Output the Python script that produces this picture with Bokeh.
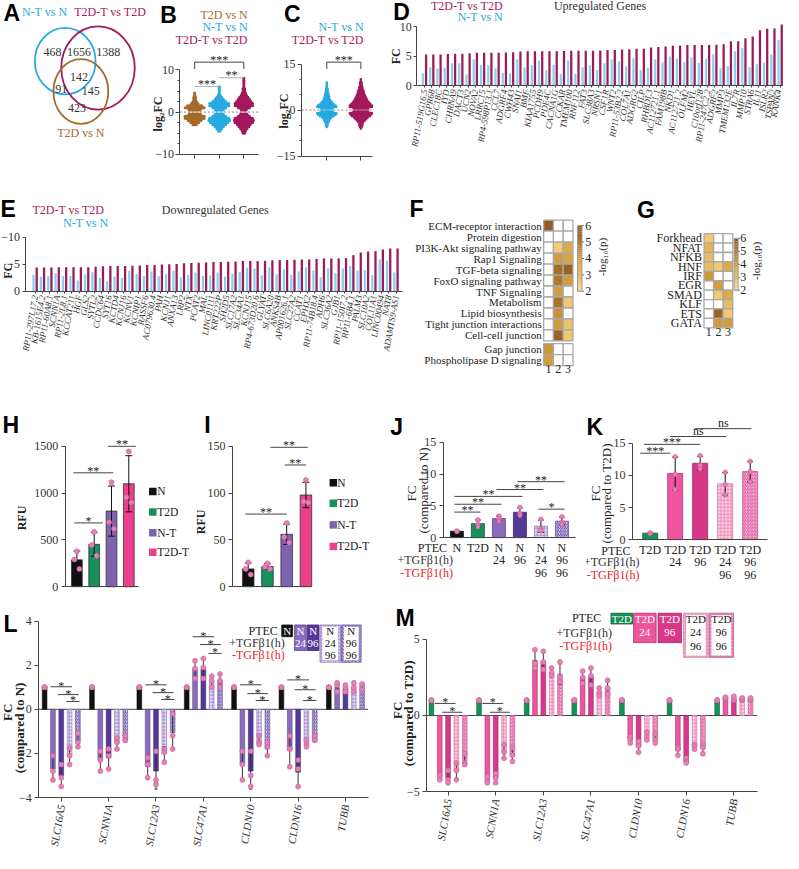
import math
import numpy as np
from bokeh.plotting import figure
from bokeh.models import Range1d, Label, FixedTicker
from bokeh.layouts import column, row
from bokeh.embed import file_html
from bokeh.resources import INLINE

# ======================= DATA =======================
# A: Venn diagram
venn_sets = ["N-T vs N", "T2D-T vs T2D", "T2D vs N"]
venn_counts = [468, 1656, 1388, 142, 91, 145, 423]

# B: log2FC swarm (dots per row at each log2FC level)
b_groups = ["T2D vs N", "N-T vs N", "T2D-T vs T2D"]
b_bins = [8, 7.5, 7, 6.5, 6, 5.5, 5, 4.5, 4, 3.5, 3, 2.5, 2, 1.5, 1, 0.5,
          -0.5, -1, -1.5, -2, -2.5, -3, -3.5, -4, -4.5, -5]
b_counts_t2d = [0, 0, 0, 0, 0, 0, 0, 1, 1, 2, 2, 3, 5, 10, 13, 8,
                8, 13, 13, 9, 6, 3, 0, 0, 0, 0]
b_counts_nt = [0, 0, 0, 0, 1, 1, 1, 1, 2, 4, 6, 9, 13, 13, 9, 6,
               6, 9, 13, 14, 12, 9, 6, 4, 2, 0]
b_counts_t2dt = [1, 1, 1, 1, 1, 2, 2, 3, 4, 6, 8, 10, 12, 12, 8, 4,
                 5, 8, 12, 13, 12, 9, 7, 5, 3, 2]

# C: log2FC swarm
c_groups = ["N-T vs N", "T2D-T vs T2D"]
c_bins = [10, 9.5, 9, 8.5, 8, 7.5, 7, 6.5, 6, 5.5, 5, 4.5, 4, 3.5, 3, 2.5, 2, 1.5, 1, 0.5,
          -0.5, -1, -1.5, -2, -2.5, -3, -3.5, -4, -4.5, -5, -5.5, -6]
c_counts_nt = [0, 0, 1, 1, 1, 1, 2, 2, 2, 3, 3, 4, 4, 5, 6, 8, 10, 13, 14, 9,
               9, 14, 13, 10, 7, 5, 4, 3, 2, 2, 1, 0]
c_counts_t2dt = [1, 1, 2, 2, 2, 3, 3, 4, 5, 5, 6, 7, 8, 9, 10, 12, 14, 16, 16, 11,
                 11, 16, 15, 13, 10, 8, 6, 4, 3, 3, 2, 1]

# D: upregulated genes
up_genes = ["RP11-519G16.5", "GPR68", "CLEC18C", "IYD", "CHRNA9", "DACT3", "UCN2", "NOVA2", "LRRC15",
            "RP4-598P13.1", "CCL7", "ADGRF4", "CWH43", "SNAI1", "BMF", "KIAA1755", "PCDH9", "PDE4C",
            "CACNA1G", "CCKAR", "TMEM100", "RNF112", "FAT3", "SLC38A3", "NRSN1", "CSF1R", "WNT2",
            "RP11-53B2.2", "COL7A1", "ADGRG2", "CILP", "RHBDL3", "AC112721.1", "FAM198B", "NKD1",
            "AC112721.2", "OLFM2", "HEYL", "C10orf128", "RP11-247C2.2", "ADGRF2", "MMP3", "TMEM132E",
            "IL7R", "MMP10", "STRA6", "IL11", "ISLR2", "TSPAN2", "KANK4"]
up_t2dt = [5.3, 5.3, 5.3, 5.4, 5.45, 5.45, 5.5, 5.6, 5.6, 5.6,
           5.6, 5.65, 5.7, 5.8, 5.85, 5.85, 5.85, 5.85, 5.85, 5.9,
           5.95, 5.95, 5.95, 5.95, 6.0, 6.05, 6.05, 6.15, 6.2, 6.3,
           6.3, 6.5, 6.6, 6.65, 6.8, 6.85, 6.9, 6.9, 6.9, 6.9,
           6.95, 7.05, 7.55, 7.55, 8.05, 8.35, 9.45, 9.7, 9.75, 10.4]
up_nt = [2.05, 3.15, 2.9, 3.05, 3.8, 3.8, 1.95, 4.45, 3.55, 3.45,
         2.9, 2.2, 2.05, 4.45, 3.1, 3.45, 4.3, 2.6, 3.55, 2.0,
         4.3, 2.0, 3.1, 3.45, 2.65, 3.8, 4.45, 4.15, 3.3, 4.65,
         2.65, 3.05, 4.45, 4.0, 4.95, 4.6, 4.0, 4.85, 3.85, 4.6,
         5.35, 2.95, 3.3, 5.85, 6.4, 3.15, 3.65, 3.9, 5.3, 7.8]

# E: downregulated genes (magnitudes of FC, drawn as negative)
down_genes = ["RP11-297L17.2", "KB-1615E4.2", "RP11-60A8.1", "SCNN1A", "RP11-2L8.1", "KCCAT211", "HGF",
              "GLS2", "SYTL2", "CCDC64", "SYT16", "KCTD4", "KCNJ16", "KCNV1", "KCNIP1", "RASSF6",
              "AC079630.4", "PAH", "KCNJ1", "ANXA13", "LRP2", "NTX", "PCAT2", "MAL", "LINC01111",
              "KRT222P", "SH2D5", "SLC17A2", "SLC34A1", "KCNJ15", "RP4-673D20.6", "GLYAT", "SLC6A20",
              "ANKS4B", "AP001626.1", "SLC27A2", "CCAT1", "EPHX2", "RP11-74B18.4", "ADH6", "SLC36A2",
              "GJB1", "RP11-150I7.2", "RP11-6B4.1", "PALM3", "SLC10A2", "COL11A1", "LINC00494", "NAT8",
              "ADAMTS9-AS1"]
down_t2dt = [4.4, 4.4, 4.4, 4.45, 4.45, 4.45, 4.45, 4.45, 4.55, 4.65,
             4.7, 4.7, 4.7, 4.75, 4.8, 4.9, 4.9, 4.95, 5.0, 5.05,
             5.2, 5.25, 5.3, 5.35, 5.45, 5.45, 5.5, 5.55, 5.6, 5.6,
             5.6, 5.65, 5.75, 5.8, 5.8, 5.85, 5.9, 5.9, 6.0, 6.1,
             6.1, 6.1, 6.15, 6.7, 7.2, 7.4, 7.45, 7.75, 7.95, 7.95]
down_nt = [3.05, 2.75, 2.85, 3.35, 2.85, 2.85, 2.0, 3.15, 3.55, 2.45,
           1.85, 2.75, 2.45, 3.8, 3.25, 2.85, 3.7, 2.8, 3.15, 3.8,
           2.55, 3.05, 3.5, 2.85, 2.95, 3.5, 2.75, 3.25, 3.55, 4.35,
           4.25, 2.95, 4.45, 3.15, 4.1, 3.05, 3.7, 4.45, 3.85, 2.6,
           4.25, 3.4, 4.25, 4.7, 3.85, 3.95, 3.05, 5.9, 5.7, 3.5]

# F: pathway enrichment (-log10 p), columns 1..3, None = not significant
f_terms = ["ECM-receptor interaction", "Protein digestion", "PI3K-Akt signaling pathway",
           "Rap1 Signaling", "TGF-beta signaling", "FoxO signaling pathway", "TNF Signaling",
           "Metabolism", "Lipid biosynthesis", "Tight junction interactions", "Cell-cell junction",
           "Gap junction", "Phospholipase D signaling"]
f_vals = [[5.8, None, None], [None, None, None], [None, 2.5, 3.6], [None, 4.0, 3.8],
          [None, 5.3, 5.6], [None, 5.0, 4.0], [None, 4.0, None], [None, 5.2, 2.6],
          [None, 4.3, None], [None, 4.1, 2.8], [None, 5.6, 2.6], [4.2, None, None],
          [4.0, None, None]]

# G: transcription factor enrichment
g_tfs = ["Forkhead", "NFAT", "NFKB", "HNF", "IRF", "EGR", "SMAD", "KLF", "ETS", "GATA"]
g_vals = [[2.5, None, None], [3.2, None, None], [3.0, None, None], [3.0, 2.6, 3.6],
          [4.2, None, None], [None, 4.0, None], [None, 2.6, 3.6], [None, None, 3.0],
          [None, 5.6, 2.6], [None, 4.0, 4.0]]
heat_cols = ["1", "2", "3"]

# H, I: RFU
hi_groups = ["N", "T2D", "N-T", "T2D-T"]
h_vals = [287, 453, 808, 1100]
h_pts = [[378, 290, 190], [585, 445, 330], [1115, 690, 620], [1445, 955, 900]]
i_vals = [19, 21.5, 56, 98]
i_pts = [[26, 19, 13], [25, 21, 19], [68, 53, 47], [114, 91, 90]]

# J: FC compared to N
j_ptec = ["N", "T2D", "N", "N", "N", "N"]
j_plus = ["", "", "24", "96", "24", "96"]
j_minus = ["", "", "", "", "96", "96"]
j_vals = [1.0, 2.2, 3.0, 4.0, 1.8, 2.6]
j_pts = [[1.0, 1.0, 1.0], [2.8, 2.1, 1.7], [3.4, 3.0, 2.6], [4.8, 3.8, 3.5], [2.9, 1.4, 1.1], [3.3, 2.4, 2.1]]

# K: FC compared to T2D
k_ptec = ["T2D", "T2D", "T2D", "T2D", "T2D"]
k_plus = ["", "24", "96", "24", "96"]
k_minus = ["", "", "", "96", "96"]
k_vals = [1.0, 10.3, 11.9, 8.7, 10.6]
k_pts = [[1.0, 1.0, 1.0], [12.9, 10.2, 7.8], [13.1, 11.6, 11.0], [10.5, 8.6, 7.0], [12.2, 10.6, 9.0]]

# L, M: qPCR genes
lm_genes = ["SLC16A5", "SCNN1A", "SLC12A3", "SLC47A1", "CLDN10", "CLDN16", "TUBB"]
l_ptec = ["N", "N", "N", "N", "N"]
l_plus = ["", "24", "96", "24", "96"]
l_minus = ["", "", "", "96", "96"]
l_vals = [[1, -2.7, -3.0, -2.1, -1.45],
          [1, -2.3, -2.2, -1.5, -1.35],
          [1, -2.6, -2.8, -2.0, -1.05],
          [1, 1.8, 1.85, 1.25, 1.3],
          [1, -2.5, -2.8, -1.45, -1.8],
          [1, -1.85, -2.85, -1.55, -1.35],
          [1, 1.0, 0.95, 1.0, 1.05]]
l_pts = [[[1, 1, 1], [-2.1, -2.8, -3.2], [-2.5, -3.1, -3.5], [-1.75, -2.1, -2.5], [-1.1, -1.5, -1.7]],
         [[1, 1, 1], [-1.9, -2.3, -2.8], [-1.8, -2.1, -2.7], [-1.3, -1.5, -1.8], [-1.2, -1.4, -1.4]],
         [[1, 1, 1], [-2.2, -2.5, -3.1], [-1.9, -3.2, -3.4], [-1.8, -1.95, -2.4], [-0.2, -1.2, -1.8]],
         [[1, 1, 1], [1.4, 1.85, 2.2], [1.4, 1.9, 2.3], [1.0, 1.3, 1.5], [1.0, 1.3, 1.6]],
         [[1, 1, 1], [-1.9, -2.5, -3.2], [-1.9, -3.0, -3.5], [-1.2, -1.5, -1.6], [-1.5, -1.7, -2.1]],
         [[1, 1, 1], [-1.2, -1.8, -2.6], [-2.3, -2.7, -3.5], [-1.4, -1.6, -1.7], [-1.2, -1.4, -1.4]],
         [[1, 1, 1], [0.8, 1.1, 1.2], [0.8, 1.0, 1.1], [0.8, 1.0, 1.2], [0.9, 1.1, 1.15]]]
m_ptec = ["T2D", "T2D", "T2D", "T2D", "T2D"]
m_plus = ["", "24", "96", "24", "96"]
m_minus = ["", "", "", "96", "96"]
m_vals = [[1, -4.0, -4.1, -3.6, -2.95],
          [1, -4.2, -4.05, -2.4, -2.6],
          [1, 3.6, 3.55, 2.8, 2.7],
          [1, 2.5, 2.55, 1.55, 1.8],
          [1, -1.55, -2.0, -1.3, -1.55],
          [1, -2.3, -3.0, -2.0, -2.15],
          [1, 1.15, 1.1, 1.1, 1.05]]
m_pts = [[[1, 1, 1], [-3.9, -4.1, -4.2], [-3.6, -4.2, -4.4], [-3.1, -3.6, -4.2], [-2.5, -3.1, -3.2]],
         [[1, 1, 1], [-4.0, -4.3, -4.4], [-3.8, -4.1, -4.4], [-1.9, -2.4, -2.8], [-2.1, -2.6, -3.0]],
         [[1, 1, 1], [4.3, 3.4, 3.1], [4.2, 3.5, 3.0], [3.1, 2.8, 2.6], [3.5, 2.5, 2.2]],
         [[1, 1, 1], [2.9, 2.5, 2.1], [3.1, 2.6, 2.0], [1.8, 1.5, 1.3], [2.3, 1.8, 1.4]],
         [[1, 1, 1], [-1.4, -1.6, -1.8], [-1.7, -2.0, -2.4], [-1.1, -1.4, -1.6], [-1.2, -1.6, -1.8]],
         [[1, 1, 1], [-2.1, -2.2, -2.6], [-2.8, -3.0, -3.1], [-1.9, -2.0, -2.2], [-1.9, -2.1, -2.5]],
         [[1, 1, 1], [1.1, 1.15, 1.2], [1.0, 1.1, 1.25], [1.0, 1.1, 1.15], [1.0, 1.05, 1.15]]]

# ======================= STYLE =======================
S = 783 / 799
SERIF = "Liberation Serif"
SANS = "Liberation Sans"
AX = "#444444"
TXT = "#333333"
C_BLUE = "#27A9E1"
C_MAG = "#A3195B"
C_BROWN = "#A66A2C"
C_BLUE_BAR = "#86D1F2"
C_MAG_BAR = "#9B1B59"
C_BLACK = "#111111"
C_GREEN = "#17915A"
C_PURP = "#7F62B0"
C_PINK = "#EC3F8C"
C_PT = "#E67FB4"
C_PT_LINE = "#C8609A"
C_RED = "#E8262C"

PURPLE_STYLES = [
    dict(fill_color="#8A6BBE", line_color="#5E4A86"),
    dict(fill_color="#55399A", line_color="#3C2872"),
    dict(fill_color="#E6DDF4", line_color="#8F7BB8", hatch_pattern="cross", hatch_color="#9A80CA",
         hatch_scale=3.5, hatch_weight=0.8),
    dict(fill_color="#DDD4F0", line_color="#6D57A6", hatch_pattern="right_diagonal_line",
         hatch_color="#5E45A3", hatch_scale=3.5, hatch_weight=0.9),
]
PINK_STYLES = [
    dict(fill_color="#EE559D", line_color="#A8366C"),
    dict(fill_color="#D9388A", line_color="#9A2862"),
    dict(fill_color="#FAD0E3", line_color="#C97FA3", hatch_pattern="cross", hatch_color="#EE7BB0",
         hatch_scale=3.5, hatch_weight=0.8),
    dict(fill_color="#F8C6DD", line_color="#C0558A", hatch_pattern="right_diagonal_line",
         hatch_color="#DC4C95", hatch_scale=3.5, hatch_weight=0.9),
]
BLACK_STYLE = dict(fill_color=C_BLACK, line_color=C_BLACK)
GREEN_STYLE = dict(fill_color=C_GREEN, line_color="#0E5E3A")

HEAT_STOPS = [(2.0, (252, 218, 136)), (4.0, (212, 157, 60)), (6.0, (140, 84, 30))]


def heat_color(v):
    v = min(max(v, 2.0), 6.0)
    for (v0, c0), (v1, c1) in zip(HEAT_STOPS[:-1], HEAT_STOPS[1:]):
        if v <= v1:
            t = (v - v0) / (v1 - v0)
            return "#%02x%02x%02x" % tuple(int(round(a + (b - a) * t)) for a, b in zip(c0, c1))
    return "#8c541e"


class Panel:
    """A figure whose frame fills its whole box; axes are pinned inside it."""

    def __init__(self, box, xcal, ycal, axes=True):
        x0, y0, x1, y1 = box
        self.xcal, self.ycal = xcal, ycal
        a, va, b, vb = xcal
        self.xppu = (b - a) / (vb - va)
        kw = dict(width=round(x1 * S) - round(x0 * S), height=round(y1 * S) - round(y0 * S),
                  x_range=Range1d(self.xv(x0), self.xv(x1)),
                  y_range=Range1d(self.yv(y1), self.yv(y0)),
                  min_border_left=0, min_border_right=0, min_border_top=0, min_border_bottom=0,
                  toolbar_location=None, output_backend="svg", title=None)
        if not axes:
            kw.update(x_axis_type=None, y_axis_type=None)
        p = figure(**kw)
        p.frame_align = False
        p.outline_line_color = None
        p.background_fill_color = "white"
        p.border_fill_color = "white"
        if axes:
            p.xgrid.visible = False
            p.ygrid.visible = False
            for ax in list(p.xaxis) + list(p.yaxis):
                ax.axis_line_color = AX
                ax.axis_line_width = 1
                ax.major_tick_line_color = AX
                ax.minor_tick_line_color = AX
                ax.major_tick_in = 0
                ax.major_tick_out = 4
                ax.minor_tick_in = 0
                ax.minor_tick_out = 2
                ax.major_label_text_font = SERIF
                ax.major_label_text_font_size = "12px"
                ax.major_label_text_color = TXT
                ax.major_label_standoff = 3
        self.p = p

    def xv(self, px):
        a, va, b, vb = self.xcal
        return va + (px - a) * (vb - va) / (b - a)

    def yv(self, py):
        a, va, b, vb = self.ycal
        return va + (py - a) * (vb - va) / (b - a)

    def axes_at(self, xaxis_py, yaxis_px):
        self.p.xaxis.fixed_location = self.yv(xaxis_py)
        self.p.yaxis.fixed_location = self.xv(yaxis_px)


def lab(P, x, y, text, size=12, color=TXT, align="center", base="middle",
        font=SERIF, style="normal", angle=0.0, xd=False, yd=False):
    P.p.add_layout(Label(x=(x if xd else P.xv(x)), y=(y if yd else P.yv(y)), text=text,
                         text_font=font, text_font_size=f"{size}px", text_font_style=style,
                         text_color=color, text_align=align, text_baseline=base, angle=angle))


def letter(P, x, y, t):
    lab(P, x, y, t, size=23, color="#000000", align="left", font=SANS, style="bold")


def blank_labels(ax, ticks):
    ax.ticker = FixedTicker(ticks=ticks, minor_ticks=[])
    ax.major_label_overrides = {t: "" for t in ticks}
    ax.major_label_standoff = 0


def swarm(P, gx, bins, counts, sp_px, color, size):
    dx = sp_px / P.xppu
    xs, ys = [], []
    for v, n in zip(bins, counts):
        for k in range(n):
            xs.append(gx + (k - (n - 1) / 2) * dx)
            ys.append(v)
    P.p.scatter(x=xs, y=ys, size=size, fill_color=color, line_color=None)


def sig(P, x1, x2, ypx, text, drop=0, lc="#444444", tc="#222222", off=2, size=12):
    y = P.yv(ypx)
    P.p.segment(x0=[x1], y0=[y], x1=[x2], y1=[y], line_color=lc, line_width=1)
    if drop:
        yd = P.yv(ypx + drop)
        P.p.segment(x0=[x1, x2], y0=[y, y], x1=[x1, x2], y1=[yd, yd], line_color=lc, line_width=1)
    lab(P, (x1 + x2) / 2, ypx - off, text, size=size, color=tc, xd=True)


def errbars(P, xs, means, sds, cap_px, color="#111111", width=1.0):
    cw = cap_px / P.xppu / 2
    x0s, y0s, x1s, y1s = [], [], [], []
    for x, m, s in zip(xs, means, sds):
        x0s += [x, x - cw, x - cw]
        x1s += [x, x + cw, x + cw]
        y0s += [m - s, m - s, m + s]
        y1s += [m + s, m - s, m + s]
    P.p.segment(x0=x0s, y0=y0s, x1=x1s, y1=y1s, line_color=color, line_width=width)


def bar_panel(P, vals, pts, styles, width, cap_px, offs_px, pt_size):
    xs = list(range(len(vals)))
    for x, v, st in zip(xs, vals, styles):
        P.p.vbar(x=[x], top=[v], bottom=0, width=width, line_width=0.8, **st)
    sds = [float(np.std(p_, ddof=1)) for p_ in pts]
    errbars(P, xs, vals, sds, cap_px)
    px_, py_ = [], []
    for x, p_ in zip(xs, pts):
        for j, v in enumerate(p_):
            px_.append(x + offs_px[j] / P.xppu)
            py_.append(v)
    P.p.scatter(x=px_, y=py_, size=pt_size, fill_color=C_PT, line_color=C_PT_LINE, line_width=0.6)


def grouped(P, vals, pts, styles, off_px, w_px, pt_size):
    ng = len(vals)
    off = off_px / P.xppu
    w = w_px / P.xppu
    ex, em, es, px_, py_ = [], [], [], [], []
    for k, st in enumerate(styles):
        xs = [g + (k - 2) * off for g in range(ng)]
        tops = [vals[g][k] for g in range(ng)]
        P.p.vbar(x=xs, top=tops, bottom=0, width=w, line_width=0.6, **st)
        for g in range(ng):
            ex.append(xs[g])
            em.append(vals[g][k])
            es.append(float(np.std(pts[g][k], ddof=1)))
            for v in pts[g][k]:
                px_.append(xs[g])
                py_.append(v)
    errbars(P, ex, em, es, 3, color="#333333", width=1.0)
    P.p.scatter(x=px_, y=py_, size=pt_size, fill_color=C_PT, line_color=C_PT_LINE, line_width=0.6)


def gene_axis(ax, names, size):
    ax.ticker = FixedTicker(ticks=list(range(len(names))), minor_ticks=[])
    ax.major_label_overrides = {i: g for i, g in enumerate(names)}
    ax.major_label_orientation = 1.4
    ax.major_label_text_font_style = "italic"
    ax.major_label_text_font_size = f"{size}px"


def heat_panel(P, names, vals, rows, font_size):
    xs, ys, cols = [], [], []
    for r, rv in zip(rows, vals):
        for c, v in enumerate(rv):
            xs.append(c + 1)
            ys.append(r)
            cols.append(heat_color(v) if v is not None else "#FFFFFF")
    P.p.rect(x=xs, y=ys, width=1, height=1, fill_color=cols, line_color="#A8A8A8", line_width=1.3)
    ya = P.p.yaxis[0]
    ya.ticker = FixedTicker(ticks=list(rows), minor_ticks=[])
    ya.major_label_overrides = {r: n for r, n in zip(rows, names)}
    ya.axis_line_color = None
    ya.major_tick_line_color = None
    ya.major_tick_out = 0
    ya.major_label_standoff = 2
    ya.major_label_text_font_size = f"{font_size}px"
    ya.major_label_text_color = "#222222"
    xa = P.p.xaxis[0]
    xa.ticker = FixedTicker(ticks=[1, 2, 3], minor_ticks=[])
    xa.major_label_overrides = {i + 1: c for i, c in enumerate(heat_cols)}
    xa.axis_line_color = None
    xa.major_tick_line_color = None
    xa.major_tick_out = 0
    xa.major_label_standoff = 0
    xa.major_label_text_color = "#222222"


def colorbar(P, xc, top, bot, w, tick_x, title_x, title_y, title_size=12):
    n = 32
    l, r = P.xv(xc - w / 2), P.xv(xc + w / 2)
    tops, bots, cols = [], [], []
    for i in range(n):
        v0 = 6 - 4 * i / n
        v1 = 6 - 4 * (i + 1) / n
        tops.append(P.yv(top + (6 - v0) / 4 * (bot - top)))
        bots.append(P.yv(top + (6 - v1) / 4 * (bot - top)))
        cols.append(heat_color((v0 + v1) / 2))
    P.p.quad(left=l, right=r, top=tops, bottom=bots, fill_color=cols, line_color=None)
    P.p.quad(left=[l], right=[r], top=[P.yv(top)], bottom=[P.yv(bot)], fill_color=None,
             line_color="#999999", line_width=1)
    for v in [6, 5, 4, 3, 2]:
        py = top + (6 - v) / 4 * (bot - top)
        P.p.segment(x0=[r], y0=[P.yv(py)], x1=[P.xv(xc + w / 2 + 2)], y1=[P.yv(py)],
                    line_color="#777777", line_width=1)
        lab(P, tick_x, py, str(v), align="left", color="#222222")
    lab(P, title_x, title_y, "-log\u2081\u2080(p)", size=title_size, angle=math.pi / 2, color="#222222")


def cond_rows(P, ptec, plus, minus, ys):
    for i, (a, b, c) in enumerate(zip(ptec, plus, minus)):
        for t, y in zip((a, b, c), ys):
            if t:
                lab(P, i, y, t, xd=True, color="#222222")


def row_titles(P, xs, ys):
    lab(P, xs[0], ys[0], "PTEC", align="right", color="#222222")
    lab(P, xs[1], ys[1], "+TGF\u03b21(h)", align="right", color="#333333")
    lab(P, xs[2], ys[2], "-TGF\u03b21(h)", align="right", color=C_RED)


def legend_boxes(P, boxes, styles, ptec, plus, minus, text_ys, text_cols, size=11):
    for (l, t, r, b), st, a, bb, c, tc in zip(boxes, styles, ptec, plus, minus, text_cols):
        P.p.quad(left=[P.xv(l)], right=[P.xv(r)], top=[P.yv(t)], bottom=[P.yv(b)], line_width=0.8, **st)
        if "hatch_pattern" in st:
            P.p.quad(left=[P.xv(l + 2.5)], right=[P.xv(r - 2.5)], top=[P.yv(t + 2)],
                     bottom=[P.yv(b - 2)], fill_color="white", line_color=None)
        for txt, y in zip((a, bb, c), text_ys):
            if txt:
                lab(P, (l + r) / 2, y, txt, color=tc, size=size)


# ======================= PANEL A =======================
A = Panel((0, 0, 150, 185), (0, 0, 150, 150), (0, 0, 185, 185), axes=False)
venn_shape = [(66, 62, 62, 68), (99.5, 69, 75, 85), (82, 93, 56, 66)]
venn_colors = [C_BLUE, C_MAG, C_BROWN]
for (cx, cy, w, h), col in zip(venn_shape, venn_colors):
    A.p.ellipse(x=[cx], y=[cy], width=[w], height=[h], fill_color=None, line_color=col, line_width=1.8)
venn_count_pos = [(53, 53), (80, 53), (110, 53), (80, 78), (62, 90), (92, 93), (78, 110)]
for (x, y), n in zip(venn_count_pos, venn_counts):
    lab(A, x, y, str(n), size=12, color=TXT)
venn_title_pos = [(45, 12), (112, 12), (82, 135)]
for (x, y), name, col in zip(venn_title_pos, venn_sets, venn_colors):
    lab(A, x, y, name, size=12, color=col)
letter(A, 3, 13, "A")

# ======================= PANEL B =======================
B = Panel((150, 0, 268, 185), (198, 0, 223, 1), (157, -10, 71, 10))
B.axes_at(157, 183)
B.p.yaxis.ticker = FixedTicker(ticks=[-10, 0, 10], minor_ticks=[-7.5, -5, -2.5, 2.5, 5, 7.5])
B.p.yaxis.bounds = (-10, 10)
B.p.yaxis.major_label_standoff = 2
blank_labels(B.p.xaxis[0], [0, 1, 2])
B.p.xaxis.bounds = (B.xv(183), B.xv(263))
B.p.segment(x0=[B.xv(183)], y0=[0], x1=[B.xv(263)], y1=[0], line_dash="2 2", line_color="#888888", line_width=1)
b_colors = [C_BROWN, C_BLUE, C_MAG]
for gi, (cnts, col) in enumerate(zip([b_counts_t2d, b_counts_nt, b_counts_t2dt], b_colors)):
    swarm(B, gi, b_bins, cnts, 1.6, col, 3.2)
sig(B, 0, 2, 63, "***", drop=7)
sig(B, 0, 1, 88, "***", lc="#AAAAAA", off=3)
sig(B, 1, 2, 79, "**", lc="#AAAAAA", off=3)
for name, col, y in zip(b_groups, b_colors, [15, 27, 40]):
    lab(B, 252, y, name, color=col, align="right")
lab(B, 161, 116, "log\u2082FC", style="bold", angle=math.pi / 2, color="#222222")
letter(B, 163, 15, "B")

# ======================= PANEL C =======================
C = Panel((268, 0, 382, 185), (333, 0, 368, 1), (159, -15, 65, 15))
C.axes_at(159, 307)
C.p.yaxis.ticker = FixedTicker(ticks=[-15, 0, 15], minor_ticks=[-10, -5, 5, 10])
C.p.yaxis.bounds = (-15, 15)
C.p.yaxis.major_label_standoff = 2
blank_labels(C.p.xaxis[0], [0, 1])
C.p.xaxis.bounds = (C.xv(307), C.xv(380))
C.p.segment(x0=[C.xv(307)], y0=[0], x1=[C.xv(382)], y1=[0], line_dash="2 2", line_color="#888888", line_width=1)
c_colors = [C_BLUE, C_MAG]
for gi, (cnts, col) in enumerate(zip([c_counts_nt, c_counts_t2dt], c_colors)):
    swarm(C, gi, c_bins, cnts, 1.5, col, 2.6)
sig(C, 0, 1, 63, "***", drop=7)
for name, col, y in zip(c_groups, c_colors, [27, 40]):
    lab(C, 371, y, name, color=col, align="right")
lab(C, 289, 113, "log\u2082FC", style="bold", angle=math.pi / 2, color="#222222")
letter(C, 289, 14, "C")

# ======================= PANEL D =======================
D = Panel((382, 0, 799, 185), (433, 0, 795.6, 49), (87, 0, 27, 10))
D.axes_at(87, 425)
D.p.yaxis.ticker = FixedTicker(ticks=[0, 5, 10], minor_ticks=[])
D.p.yaxis.bounds = (0, 10)
D.p.yaxis.major_tick_out = 3
D.p.yaxis.major_label_standoff = 2
xs_up = np.arange(len(up_genes))
D.p.vbar(x=xs_up - 0.215, top=up_nt, bottom=0, width=0.31, fill_color=C_BLUE_BAR, line_color=None)
D.p.vbar(x=xs_up + 0.215, top=up_t2dt, bottom=0, width=0.31, fill_color=C_MAG_BAR, line_color=None)
xa = D.p.xaxis[0]
gene_axis(xa, up_genes, 9)
xa.major_tick_out = 2
xa.major_label_standoff = 2
xa.bounds = (D.xv(425), D.xv(799))
lab(D, 513, 6, "T2D-T vs T2D", color=C_MAG, align="right")
lab(D, 513, 17, "N-T vs N", color=C_BLUE, align="right")
lab(D, 612, 6, "Upregulated Genes", color=TXT)
lab(D, 404, 57, "FC", style="bold", angle=math.pi / 2, color="#222222")
letter(D, 401, 12, "D")

# ======================= PANEL E =======================
E = Panel((0, 185, 414, 390), (35.3, 0, 403.3, 49), (297, 0, 242, -10))
E.axes_at(297, 25)
E.p.yaxis.ticker = FixedTicker(ticks=[0, -5, -10], minor_ticks=[])
E.p.yaxis.bounds = (-10, 0)
E.p.yaxis.major_tick_out = 3
E.p.yaxis.major_label_standoff = 2
xs_dn = np.arange(len(down_genes))
E.p.vbar(x=xs_dn - 0.215, top=[-v for v in down_nt], bottom=0, width=0.31, fill_color=C_BLUE_BAR, line_color=None)
E.p.vbar(x=xs_dn + 0.215, top=[-v for v in down_t2dt], bottom=0, width=0.31, fill_color=C_MAG_BAR, line_color=None)
xa = E.p.xaxis[0]
gene_axis(xa, down_genes, 9)
xa.major_tick_out = 2
xa.major_label_standoff = 2
xa.bounds = (E.xv(25), E.xv(410))
lab(E, 106, 214, "T2D-T vs T2D", color=C_MAG, align="right")
lab(E, 110, 227, "N-T vs N", color=C_BLUE, align="right")
lab(E, 219, 214, "Downregulated Genes", color=TXT)
lab(E, 8, 276, "FC", style="bold", angle=math.pi / 2, color="#222222")
letter(E, 0, 213, "E")

# ======================= PANEL F =======================
F = Panel((414, 185, 625, 390), (559.5, 1, 569.5, 2), (230, 0, 241.2, 1))
F.axes_at(372.6, 554.5)
f_rows = [i + (0.25 if i >= 11 else 0) for i in range(len(f_terms))]
heat_panel(F, f_terms, f_vals, f_rows, 11)
colorbar(F, 591.5, 230, 297, 4.5, 597, 614, 262, title_size=11)
letter(F, 417, 213, "F")

# ======================= PANEL G =======================
G = Panel((625, 185, 799, 390), (723, 1, 732.75, 2), (243, 0, 252.6, 1))
G.axes_at(334.2, 718)
g_rows = list(range(len(g_tfs)))
heat_panel(G, g_tfs, g_vals, g_rows, 12)
colorbar(G, 750.8, 243, 296, 4, 755, 771, 266, title_size=11)
letter(G, 650, 214, "G")

# ======================= PANEL H =======================
hi_colors = [C_BLACK, C_GREEN, C_PURP, C_PINK]
hi_styles = [dict(fill_color=c, line_color="#333333") for c in hi_colors]
H = Panel((0, 390, 194, 610), (78, 0, 131, 3), (598, 0, 455, 1500))
H.axes_at(598, 66)
H.p.yaxis.ticker = FixedTicker(ticks=[0, 500, 1000, 1500], minor_ticks=[])
H.p.yaxis.bounds = (0, 1500)
H.p.xaxis.ticker = FixedTicker(ticks=[], minor_ticks=[])
H.p.xaxis.bounds = (H.xv(66), H.xv(141))
bar_panel(H, h_vals, h_pts, hi_styles, 0.62, 7, [0, -2.5, 2.5], 5)
sig(H, 0 - 0.15, 1 + 0.5, 533, "*")
sig(H, 0 - 0.2, 2 + 0.1, 482, "**")
sig(H, 2 - 0.2, 3 + 0.4, 455, "**")
for name, col, y in zip(hi_groups, hi_colors, [501, 522, 543, 563]):
    H.p.scatter(x=[H.xv(155.5)], y=[H.yv(y)], marker="square", size=7.5, fill_color=col, line_color=None)
    lab(H, 160, y, name, align="left", color="#222222", size=11.5)
lab(H, 22, 528, "RFU", style="bold", angle=math.pi / 2, color="#222222")
letter(H, 2, 433, "H")

# ======================= PANEL I =======================
I = Panel((194, 390, 378, 610), (253, 0, 312, 3), (598, 0, 455, 150))
I.axes_at(598, 237)
I.p.yaxis.ticker = FixedTicker(ticks=[0, 50, 100, 150], minor_ticks=[])
I.p.yaxis.bounds = (0, 150)
I.p.xaxis.ticker = FixedTicker(ticks=[], minor_ticks=[])
I.p.xaxis.bounds = (I.xv(237), I.xv(318))
bar_panel(I, i_vals, i_pts, hi_styles, 0.6, 7, [0, -2.5, 2.5], 5)
sig(I, 0 - 0.15, 2 + 0.0, 524, "**")
sig(I, 2 - 0.1, 3 + 0.0, 474, "**")
sig(I, 1 + 0.15, 3 + 0.1, 456, "**")
for name, col, y in zip(hi_groups, hi_colors, [492, 513, 535, 557]):
    I.p.scatter(x=[I.xv(340)], y=[I.yv(y)], marker="square", size=7.5, fill_color=col, line_color=None)
    lab(I, 344, y, name, align="left", color="#222222", size=11.5)
lab(I, 205, 532, "RFU", style="bold", angle=math.pi / 2, color="#222222")
letter(I, 208, 433, "I")

# ======================= PANEL J =======================
J = Panel((378, 390, 597, 610), (466, 0, 573, 5), (548, 0, 451, 15))
J.axes_at(548, 452)
J.p.yaxis.ticker = FixedTicker(ticks=[0, 5, 10, 15], minor_ticks=[])
J.p.yaxis.bounds = (0, 15)
J.p.xaxis.ticker = FixedTicker(ticks=[], minor_ticks=[])
J.p.xaxis.bounds = (J.xv(452), J.xv(587))
j_styles = [BLACK_STYLE, GREEN_STYLE] + PURPLE_STYLES
bar_panel(J, j_vals, j_pts, j_styles, 0.62, 6, [0, 0, 0], 4.5)
for (a, b, y, t) in [(0, 1, 522, "**"), (0, 2, 514, "**"), (0, 3, 506, "**"),
                     (2, 4, 499, "**"), (3, 5, 491, "**"), (4, 5, 519, "*")]:
    sig(J, a - 0.12, b + 0.12, y, t)
cond_rows(J, j_ptec, j_plus, j_minus, [559, 571, 584])
row_titles(J, [456, 462, 462], [559, 571, 584])
lab(J, 420, 503, "FC", size=13, angle=math.pi / 2, color="#222222")
lab(J, 432, 500, "(compared to N)", size=13, angle=math.pi / 2, color="#222222")
letter(J, 398, 435, "J")

# ======================= PANEL K =======================
K = Panel((597, 390, 799, 610), (663, 0, 765, 4), (550, 0, 452, 15))
K.axes_at(550, 645)
K.p.yaxis.ticker = FixedTicker(ticks=[0, 5, 10, 15], minor_ticks=[])
K.p.yaxis.bounds = (0, 15)
K.p.xaxis.ticker = FixedTicker(ticks=[], minor_ticks=[])
K.p.xaxis.bounds = (K.xv(645), K.xv(783))
k_styles = [GREEN_STYLE] + PINK_STYLES
bar_panel(K, k_vals, k_pts, k_styles, 0.6, 6, [0, 0, 0], 4.5)
sig(K, 0 - 0.4, 1 - 0.2, 462, "***")
sig(K, 0 - 0.25, 2 + 0.0, 453, "***")
sig(K, 1 - 0.2, 3 + 0.05, 445, "ns", off=6)
sig(K, 2 - 0.2, 4 + 0.05, 437, "ns", off=6)
cond_rows(K, k_ptec, k_plus, k_minus, [561, 573, 586])
row_titles(K, [643, 652, 652], [562, 573, 586])
lab(K, 607, 503, "FC", size=13, angle=math.pi / 2, color="#222222")
lab(K, 618, 503, "(compared to T2D)", size=13, angle=math.pi / 2, color="#222222")
letter(K, 598, 435, "K")

# ======================= PANEL L =======================
L = Panel((0, 610, 400, 869), (62, 0, 352, 6), (723, 0, 813, -4))
L.axes_at(813, 39)
L.p.yaxis.ticker = FixedTicker(ticks=[-4, -2, 0, 2, 4], minor_ticks=[])
L.p.yaxis.bounds = (-4, 4)
xa = L.p.xaxis[0]
gene_axis(xa, lm_genes, 11)
xa.bounds = (L.xv(39), L.xv(375))
L.p.segment(x0=[L.xv(39)], y0=[0], x1=[L.xv(375)], y1=[0], line_color=AX, line_width=1)
l_styles = [BLACK_STYLE] + PURPLE_STYLES
grouped(L, l_vals, l_pts, l_styles, 8.5, 4.8, 5)
l_off = 8.5 / L.xppu
l_sig_groups = [0, 2, 3, 4, 5]
l_sig_heights = [[700, 708, 715], [698, 706, 713], [649, 657, 666], [698, 707, 714], [693, 703, 714]]
l_sig_spans = [(0.7, 3.3), (1.6, 4.1), (2.6, 4.2)]
for g, hs in zip(l_sig_groups, l_sig_heights):
    for (s0, s1), y in zip(l_sig_spans, hs):
        sig(L, g + (s0 - 2) * l_off, g + (s1 - 2) * l_off, y, "*", off=1)
row_titles(L, [283, 290, 290], [643, 655, 668])
legend_boxes(L, [(287, 637, 298, 649), (300, 637, 312, 663), (313, 637, 325, 663),
                 (326, 637, 347, 675), (348, 637, 368, 675)],
             l_styles, l_ptec, l_plus, l_minus, [643, 656, 668],
             ["white", "white", "white", "#111111", "#111111"])
lab(L, 7, 726, "FC", size=13, style="bold", angle=math.pi / 2, color="#222222")
lab(L, 19, 742, "(compared to N)", size=13, style="bold", angle=math.pi / 2, color="#222222")
letter(L, 3, 636, "L")

# ======================= PANEL M =======================
M = Panel((400, 610, 799, 869), (456.7, 0, 748.3, 6), (729.3, 0, 807.3, -5))
M.axes_at(807.3, 435)
M.p.yaxis.ticker = FixedTicker(ticks=[-5, 0, 5], minor_ticks=[])
M.p.yaxis.bounds = (-5, 5)
xa = M.p.xaxis[0]
gene_axis(xa, lm_genes, 11)
xa.bounds = (M.xv(435), M.xv(772))
M.p.segment(x0=[M.xv(435)], y0=[0], x1=[M.xv(772)], y1=[0], line_color=AX, line_width=1)
m_styles = [GREEN_STYLE] + PINK_STYLES
grouped(M, m_vals, m_pts, m_styles, 8.5, 4.8, 5)
m_off = 8.5 / M.xppu
for g in [0, 1]:
    for (s0, s1), y in zip([(0.4, 2.9), (1.3, 3.7)], [717, 726]):
        sig(M, g + (s0 - 2) * m_off, g + (s1 - 2) * m_off, y, "*", off=1)
row_titles(M, [613, 624, 624], [630, 645, 658])
legend_boxes(M, [(623, 625, 645, 636), (646, 625, 669, 655), (671, 625, 695, 655),
                 (697, 625, 722, 670), (723, 625, 748, 670)],
             m_styles, m_ptec, m_plus, m_minus, [631, 645, 659],
             ["white", "white", "white", "#111111", "#111111"])
lab(M, 405, 724, "FC", size=13, style="bold", angle=math.pi / 2, color="#222222")
lab(M, 416, 727, "(compared to T2D)", size=13, style="bold", angle=math.pi / 2, color="#222222")
letter(M, 403, 630, "M")

# ======================= LAYOUT =======================
layout = column(row(A.p, B.p, C.p, D.p), row(E.p, F.p, G.p), row(H.p, I.p, J.p, K.p), row(L.p, M.p))
open("out.html", "w").write(file_html(layout, INLINE))
